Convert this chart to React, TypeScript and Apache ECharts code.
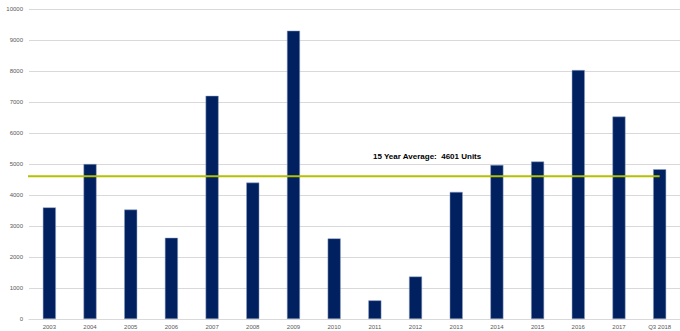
import React, { useEffect, useRef } from "react";
import * as echarts from "echarts";

const categories = ["2003", "2004", "2005", "2006", "2007", "2008", "2009", "2010", "2011", "2012", "2013", "2014", "2015", "2016", "2017", "Q3 2018"];
const units = [3600, 5000, 3530, 2620, 7200, 4400, 9300, 2600, 600, 1370, 4100, 4970, 5080, 8030, 6530, 4830];
const averageValue = 4601;
const averageSpan = [-0.7, 15];
const averageLabel = "15 Year Average:  4601 Units";

export default function App() {
  const ref = useRef<HTMLDivElement>(null);
  useEffect(() => {
    document.body.style.margin = "0";
    const chart = echarts.init(ref.current!, null, { renderer: "svg" });
    chart.setOption({
      animation: false,
      backgroundColor: "#ffffff",
      textStyle: { fontFamily: "Liberation Sans, Arial, sans-serif" },
      grid: { left: 29, right: 0, top: 9, bottom: 12, containLabel: false },
      xAxis: [
        {
          type: "category",
          data: categories,
          axisLine: { lineStyle: { color: "#d9d9d9", width: 1 } },
          axisTick: { show: false },
          axisLabel: { color: "#595959", fontSize: 6, margin: 5, interval: 0 },
        },
        {
          type: "value",
          min: -0.5,
          max: 15.5,
          show: false,
        },
      ],
      yAxis: {
        type: "value",
        min: 0,
        max: 10000,
        interval: 1000,
        axisLine: { show: false },
        axisTick: { show: false },
        axisLabel: { color: "#595959", fontSize: 6, margin: 6, formatter: (v: number) => String(v) },
        splitLine: { lineStyle: { color: "#d9d9d9", width: 1 } },
      },
      series: [
        {
          type: "bar",
          data: units,
          barWidth: 13,
          itemStyle: { color: "#002060", borderColor: "#8fa3c4", borderWidth: 0.5 },
        },
        {
          type: "line",
          xAxisIndex: 1,
          clip: false,
          symbol: "none",
          data: averageSpan.map((x) => [x, averageValue]),
          lineStyle: { color: "#b4c000", width: 2 },
        },
      ],
      graphic: [
        {
          type: "text",
          left: 373,
          top: 152,
          style: {
            text: averageLabel,
            fill: "#000000",
            font: "bold 8px Liberation Sans, Arial, sans-serif",
          },
        },
      ],
    });
    return () => chart.dispose();
  }, []);
  return <div ref={ref} style={{ width: 680, height: 331 }} />;
}
